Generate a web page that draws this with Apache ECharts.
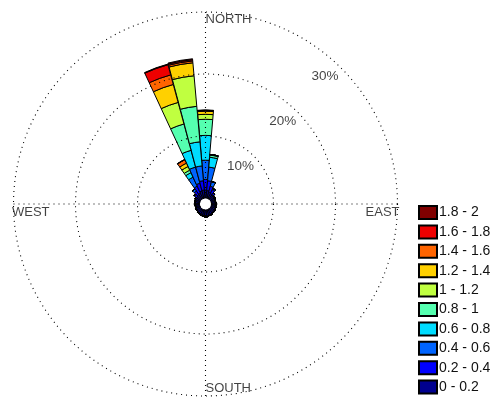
<!DOCTYPE html>
<html>
<head>
<meta charset="utf-8">
<script src="https://cdn.jsdelivr.net/npm/echarts@6/dist/echarts.min.js"></script>
<style>
  html, body { margin: 0; padding: 0; background: #fff; }
  #chart { width: 493px; height: 399px; }
</style>
</head>
<body>
<div id="chart"></div>
<script>
// Wind direction sectors, 10 degree bins, clockwise from north
const directions = ['0','10','20','30','40','50','60','70','80','90','100','110','120','130','140','150','160','170',
  '180','190','200','210','220','230','240','250','260','270','280','290','300','310','320','330','340','350'];

// Speed classes (legend labels), slowest first
const speedBins = ['0 - 0.2','0.2 - 0.4','0.4 - 0.6','0.6 - 0.8','0.8 - 1','1 - 1.2','1.2 - 1.4','1.4 - 1.6','1.6 - 1.8','1.8 - 2'];
const binColors = ['#00008f','#0000ff','#0064ff','#00dcff','#55ffb0','#c0ff40','#ffd000','#ff6400','#ee0000','#800000'];

// Frequency (%) per direction for each speed class
const freq00_02 = [1.3,1.2,1.0,0.9,0.8,0.7,0.7,0.6,0.6,0.6,0.6,0.7,0.7,0.8,0.8,0.9,0.9,1.0,1.0,0.9,0.9,0.8,0.8,0.7,0.7,0.6,0.6,0.6,0.7,0.7,0.7,0.8,0.9,1.0,1.2,1.3];
const freq02_04 = [1.7,1.6,1.0,0.7,0.4,0.2,0.1,0.1,0.1,0.1,0.1,0.1,0.1,0.1,0.1,0.1,0.1,0.1,0.1,0.1,0.1,0.1,0.1,0.1,0.1,0.1,0.1,0.1,0.1,0.1,0.2,0.4,0.7,1.2,1.3,1.5];
const freq04_06 = [3.1,2.2,0.8,0.2,0,0,0,0,0,0,0,0,0,0,0,0,0,0,0,0,0,0,0,0,0,0,0,0,0,0,0,0.1,0.4,1.6,2.7,2.4];
const freq06_08 = [4.0,1.6,0,0,0,0,0,0,0,0,0,0,0,0,0,0,0,0,0,0,0,0,0,0,0,0,0,0,0,0,0,0,0,0.8,2.8,3.9];
const freq08_10 = [2.6,0.35,0,0,0,0,0,0,0,0,0,0,0,0,0,0,0,0,0,0,0,0,0,0,0,0,0,0,0,0,0,0,0,0.45,4.4,5.75];
const freq10_12 = [0.8,0.1,0,0,0,0,0,0,0,0,0,0,0,0,0,0,0,0,0,0,0,0,0,0,0,0,0,0,0,0,0,0,0,0.65,3.6,4.95];
const freq12_14 = [0.5,0,0,0,0,0,0,0,0,0,0,0,0,0,0,0,0,0,0,0,0,0,0,0,0,0,0,0,0,0,0,0,0,0.6,3.0,2.1];
const freq14_16 = [0.1,0,0,0,0,0,0,0,0,0,0,0,0,0,0,0,0,0,0,0,0,0,0,0,0,0,0,0,0,0,0,0,0,0.6,1.6,0.3];
const freq16_18 = [0.05,0,0,0,0,0,0,0,0,0,0,0,0,0,0,0,0,0,0,0,0,0,0,0,0,0,0,0,0,0,0,0,0,0.05,1.7,0.2];
const freq18_20 = [0.05,0,0,0,0,0,0,0,0,0,0,0,0,0,0,0,0,0,0,0,0,0,0,0,0,0,0,0,0,0,0,0,0,0,0.1,0.15];
const freqTable = [freq00_02,freq02_04,freq04_06,freq06_08,freq08_10,freq10_12,freq12_14,freq14_16,freq16_18,freq18_20];

// Percentage rings and compass labels
const ringTicks = [10, 20, 30];
const compass = [
  { name: 'NORTH', angle: 0 },
  { name: 'EAST', angle: 90 },
  { name: 'SOUTH', angle: 180 },
  { name: 'WEST', angle: 270 }
];

const FONT = 'Liberation Sans, Arial, sans-serif';
const CENTER = [205.5, 204];
const RADII = [6, 192];
const RING_MAX = 30;

const chart = echarts.init(document.getElementById('chart'), null, { renderer: 'canvas' });

const barSeries = speedBins.map((name, i) => ({
  name: name,
  type: 'bar',
  coordinateSystem: 'polar',
  polarIndex: 0,
  stack: 'rose',
  barCategoryGap: '2%',
  data: freqTable[i],
  itemStyle: { color: binColors[i], borderColor: '#000', borderWidth: 1 },
  emphasis: { disabled: true },
  z: 2
}));

// Ring percentage labels placed along the north-east diagonal, just inside each ring
const ringLabelSeries = {
  type: 'scatter',
  coordinateSystem: 'polar',
  polarIndex: 1,
  symbolSize: 1,
  itemStyle: { color: 'rgba(0,0,0,0)' },
  silent: true,
  z: 6,
  data: ringTicks.map(t => ({ value: [t - 2.7, 43], name: t + '%' })),
  label: {
    show: true, position: 'inside', formatter: '{b}',
    fontFamily: FONT, fontSize: 13.5, color: '#111',
    align: 'center', verticalAlign: 'middle'
  }
};

const compassLayout = {
  NORTH: { align: 'left', verticalAlign: 'top', offset: [0, 0.5] },
  EAST:  { align: 'right', verticalAlign: 'top', offset: [2, 2] },
  SOUTH: { align: 'left', verticalAlign: 'top', offset: [0, -14.5] },
  WEST:  { align: 'left', verticalAlign: 'top', offset: [-1.5, 2] }
};

const compassSeries = {
  type: 'scatter',
  coordinateSystem: 'polar',
  polarIndex: 1,
  symbolSize: 1,
  itemStyle: { color: 'rgba(0,0,0,0)' },
  silent: true,
  z: 6,
  data: compass.map(c => ({
    value: [RING_MAX, c.angle],
    name: c.name,
    label: Object.assign({ show: true, position: 'inside', formatter: '{b}',
      fontFamily: FONT, fontSize: 13, color: '#111' }, compassLayout[c.name])
  }))
};

const dotted = { color: '#000', width: 1.1, type: [1, 4] };

chart.setOption({
  animation: false,
  backgroundColor: '#fff',
  polar: [
    { center: CENTER, radius: RADII },
    { center: CENTER, radius: RADII }
  ],
  angleAxis: [
    {
      polarIndex: 0, type: 'category', data: directions, startAngle: 95, clockwise: true,
      axisLine: { show: false }, axisTick: { show: false }, axisLabel: { show: false },
      splitLine: { show: false }, splitArea: { show: false }
    },
    {
      polarIndex: 1, type: 'value', min: 0, max: 360, interval: 90, startAngle: 90, clockwise: true,
      axisLine: { show: false }, axisTick: { show: false }, axisLabel: { show: false },
      splitLine: { show: true, lineStyle: dotted }, z: 5
    }
  ],
  radiusAxis: [
    {
      polarIndex: 0, type: 'value', min: 0, max: RING_MAX,
      axisLine: { show: false }, axisTick: { show: false }, axisLabel: { show: false },
      splitLine: { show: false }
    },
    {
      polarIndex: 1, type: 'value', min: 0, max: RING_MAX, interval: 10,
      axisLine: { show: false }, axisTick: { show: false }, axisLabel: { show: false },
      splitLine: { show: true, lineStyle: dotted }, z: 5
    }
  ],
  legend: {
    orient: 'vertical',
    left: 418, top: 205, height: 194,
    padding: 0,
    itemWidth: 18, itemHeight: 13, itemGap: 4.4,
    icon: 'rect',
    selectedMode: false,
    data: speedBins.slice().reverse(),
    textStyle: { fontFamily: FONT, fontSize: 14, lineHeight: 13, color: '#111', padding: [0, 0, 0, -3] }
  },
  series: barSeries.concat([ringLabelSeries, compassSeries])
});
</script>
</body>
</html>
